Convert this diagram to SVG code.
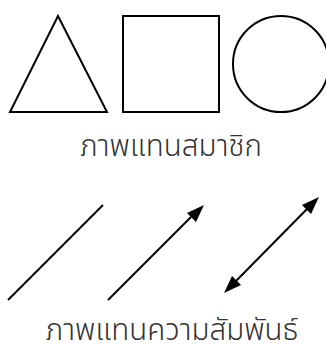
<svg xmlns="http://www.w3.org/2000/svg" width="326" height="344" viewBox="0 0 326 344">
<style>
.s{fill:none;stroke:#000;stroke-width:2}
.t{font-family:"Noto Sans Thai","Noto Sans","DejaVu Sans",sans-serif;font-size:29.5px;font-weight:300;fill:#333;text-anchor:middle}
</style>
<rect width="326" height="344" fill="#fff"/>
<g id="triangle"><polygon class="s" points="58,16 10,112 107,112"/></g>
<g id="square"><rect class="s" x="123" y="16" width="96" height="96"/></g>
<g id="circle"><circle class="s" cx="281" cy="64" r="48"/></g>
<text id="label1" class="t" x="171" y="156">ภาพแทนสมาชิก</text>
<g id="connectors">
<line class="s" x1="8" y1="300" x2="103" y2="205"/>
<path class="s" d="M108,300 L192,216"/>
<polygon points="204,205 187,213 196,222" fill="#000"/>
<path class="s" d="M236,281 L307,209"/>
<polygon points="319,197 302,205 311,214" fill="#000"/>
<polygon points="224,293 241,285 232,276" fill="#000"/>
</g>
<text id="label2" class="t" x="172" y="340">ภาพแทนความสัมพันธ์</text>
</svg>
